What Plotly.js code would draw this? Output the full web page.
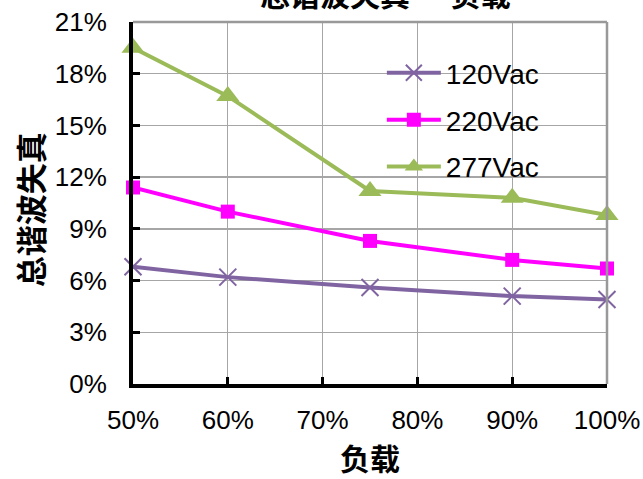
<!DOCTYPE html>
<html>
<head>
<meta charset="utf-8">
<script src="https://cdn.plot.ly/plotly-3.0.1.min.js"></script>
<style>html,body{margin:0;padding:0;background:#fff;}#chart{width:643px;height:479px;}</style>
</head>
<body>
<div id="chart"></div>
<script>
const loads = [50, 60, 75, 90, 100];
const thd120 = [6.8, 6.2, 5.6, 5.1, 4.9];
const thd220 = [11.4, 10.0, 8.3, 7.2, 6.7];
const thd277 = [19.5, 16.7, 11.2, 10.8, 9.8];
const seriesNames = ['120Vac', '220Vac', '277Vac'];
const xTicks = [50, 60, 70, 80, 90, 100];
const yTicks = [0, 3, 6, 9, 12, 15, 18, 21];
const chartTitle = '总谐波失真 — 负载';
const xTitle = '负载';
const yTitle = '总谐波失真';

const cjk = '"Noto Sans CJK SC", "Liberation Sans", Arial, sans-serif';
const latin = '"Liberation Sans", Arial, sans-serif';

const traces = [
  {x: loads, y: thd120, name: seriesNames[0], legendgroup: 'a', mode: 'lines+markers', cliponaxis: false,
   line: {color: '#8064A2', width: 4},
   marker: {symbol: 'x-thin', size: 17, line: {color: '#8064A2', width: 2}, color: '#8064A2'}},
  {x: loads, y: thd220, name: seriesNames[1], legendgroup: 'b', mode: 'lines+markers', cliponaxis: false,
   line: {color: '#FF00FF', width: 4},
   marker: {symbol: 'square', size: 14, color: '#FF00FF'}},
  {x: loads, y: thd277, name: seriesNames[2], legendgroup: 'c', mode: 'lines+markers', cliponaxis: false,
   line: {color: '#9BBB59', width: 4},
   marker: {symbol: 'triangle-up', size: 20, color: '#9BBB59'}}
];

const layout = {
  width: 643, height: 479,
  margin: {l: 133, r: 36, t: 22, b: 95},
  paper_bgcolor: '#fff', plot_bgcolor: '#fff',
  showlegend: true,
  legend: {x: 0.525, y: 0.928, xanchor: 'left', yanchor: 'top', bgcolor: 'rgba(255,255,255,0)', itemwidth: 54,
           font: {family: latin, size: 28, color: '#000'}, traceorder: 'grouped', tracegroupgap: 7.5},
  xaxis: {range: [50, 100], tickvals: xTicks, ticktext: xTicks.map(v => v + '%'),
          showgrid: true, gridcolor: '#a6a6a6', gridwidth: 1.3, zeroline: false,
          showline: true, linecolor: '#000', linewidth: 4,
          ticks: 'inside', ticklen: 7, tickwidth: 3, tickcolor: '#000',
          ticklabelstandoff: 10,
          tickfont: {family: latin, size: 26, color: '#000'},
          title: {text: xTitle, font: {family: cjk, size: 30, color: '#000', weight: 'bold'}, standoff: 19}},
  yaxis: {range: [0, 21], tickvals: yTicks, ticktext: yTicks.map(v => v + '%'),
          showgrid: true, gridcolor: '#a6a6a6', gridwidth: 1.3, zeroline: false,
          showline: true, linecolor: '#000', linewidth: 4,
          ticks: 'inside', ticklen: 7, tickwidth: 3, tickcolor: '#000',
          ticklabelstandoff: 17,
          tickfont: {family: latin, size: 26, color: '#000'}},
  shapes: [
    {type: 'rect', xref: 'paper', yref: 'paper', layer: 'between', x0: 0.511, x1: 0.89, y0: 0.55, y1: 0.936,
     fillcolor: '#fff', line: {width: 0}},
    {type: 'line', xref: 'paper', yref: 'paper', x0: 0, x1: 1, y0: 1, y1: 1, line: {color: '#999', width: 2.5}},
    {type: 'line', xref: 'paper', yref: 'paper', x0: 1, x1: 1, y0: 0, y1: 1, line: {color: '#999', width: 2.5}}
  ],
  annotations: [
    {text: chartTitle, xref: 'paper', yref: 'paper', x: 0.533, y: 1.079, xanchor: 'center', yanchor: 'middle',
     showarrow: false, font: {family: cjk, size: 30, color: '#000', weight: 'bold'}},
    {text: yTitle, xref: 'paper', yref: 'paper', x: -0.2194, y: 0.48, xanchor: 'center', yanchor: 'middle',
     textangle: -90, showarrow: false, font: {family: cjk, size: 31, color: '#000', weight: 'bold'}}
  ]
};

Plotly.newPlot('chart', traces, layout, {displayModeBar: false, staticPlot: true});
</script>
</body>
</html>
